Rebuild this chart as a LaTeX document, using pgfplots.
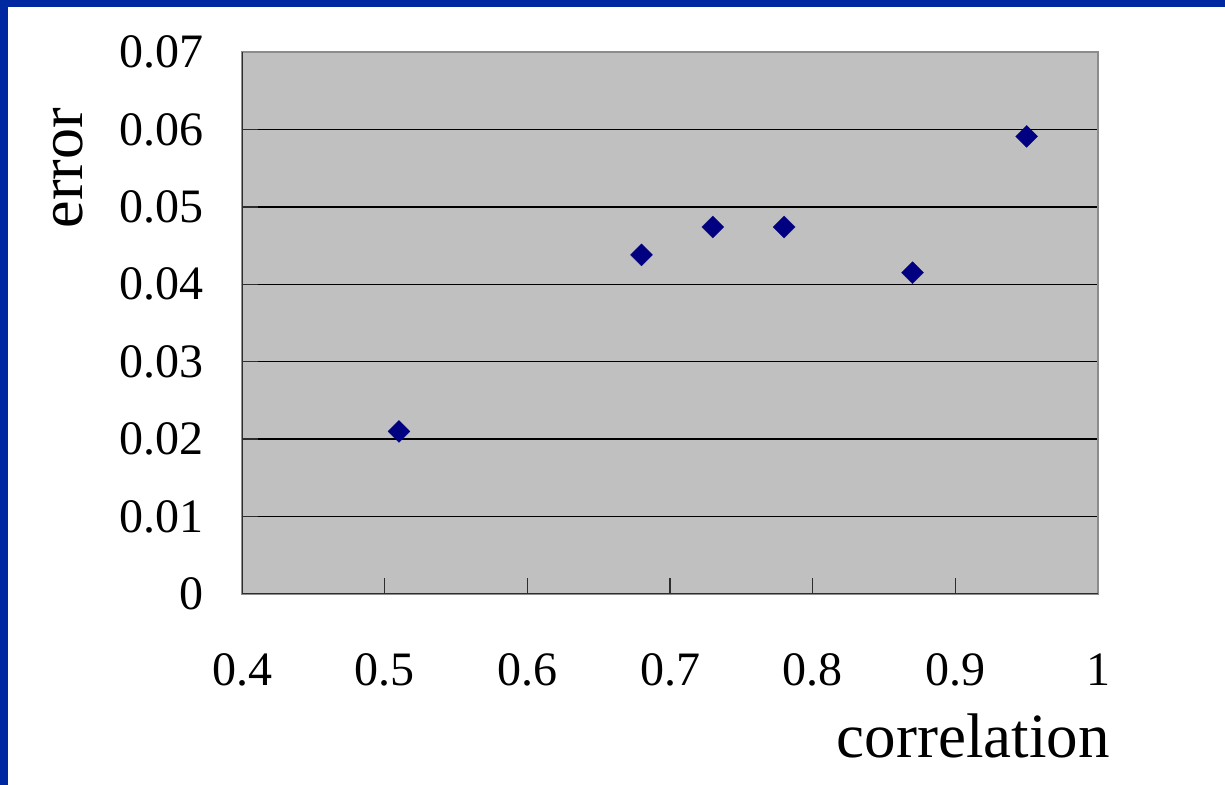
\documentclass[border=0pt]{standalone}
\usepackage{pgfplots}
\pgfplotsset{compat=1.18}
\usepackage{fontspec}
\setmainfont{Liberation Serif}

\definecolor{slideblue}{RGB}{0,40,160}
\definecolor{plotgray}{RGB}{192,192,192}
\definecolor{framegray}{RGB}{140,140,140}
\definecolor{axisdark}{RGB}{45,45,45}
\definecolor{pointblue}{RGB}{0,0,128}

\pgfplotstableread{
corr  err
0.51  0.0210
0.68  0.0438
0.73  0.0474
0.78  0.0474
0.87  0.0415
0.95  0.0591
}\errdata

\begin{document}
\begin{tikzpicture}
% slide background with its blue edge
\path[use as bounding box] (0,0) rectangle (612.5bp,392.5bp);
\fill[white] (0,0) rectangle (612.5bp,392.5bp);
\fill[slideblue] (0,389bp) rectangle (612.5bp,392.5bp);
\fill[slideblue] (0,0) rectangle (4bp,392.5bp);

\begin{axis}[
  at={(121bp,95.5bp)}, anchor=south west,
  scale only axis, width=428bp, height=271bp,
  xmin=0.4, xmax=1, ymin=0, ymax=0.07,
  xtick={0.4,0.5,0.6,0.7,0.8,0.9,1},
  ytick={0,0.01,0.02,0.03,0.04,0.05,0.06,0.07},
  scaled x ticks=false, scaled y ticks=false,
  xtick pos=bottom, ytick pos=left,
  tick align=inside,
  major tick length=8bp,
  tick style={axisdark, line width=0.7bp},
  axis background/.style={fill=plotgray},
  axis line style={framegray, line width=1.1bp},
  ymajorgrids,
  grid style={black, line width=0.7bp},
  /pgf/number format/assume math mode=true,
  tick label style={font=\fontsize{24bp}{28bp}\selectfont, inner sep=0pt},
  xticklabel style={anchor=north, yshift=-29.5bp,
    /pgf/number format/fixed, /pgf/number format/precision=1},
  yticklabel style={anchor=east, xshift=-19bp,
    /pgf/number format/fixed, /pgf/number format/precision=2},
  xlabel={correlation},
  ylabel={error},
  xlabel style={font=\fontsize{31.5bp}{36bp}\selectfont, inner sep=0pt,
    at={([xshift=6bp, yshift=-81.5bp]rel axis cs:1,0)}, anchor=base east},
  ylabel style={font=\fontsize{31bp}{36bp}\selectfont, inner sep=0pt,
    at={([xshift=-79.5bp, yshift=-58bp]rel axis cs:0,1)}, anchor=base, rotate=0},
]
\addplot[only marks, mark=square*, mark size=3.9bp, color=pointblue,
  mark options={rotate=45, fill=pointblue, draw=pointblue, line width=0.1bp}]
  table[x=corr, y=err] {\errdata};
% darker left and bottom axis lines
\draw[axisdark, line width=1.1bp] (rel axis cs:0,1) -- (rel axis cs:0,0) -- (rel axis cs:1,0);
\end{axis}
\end{tikzpicture}
\end{document}
